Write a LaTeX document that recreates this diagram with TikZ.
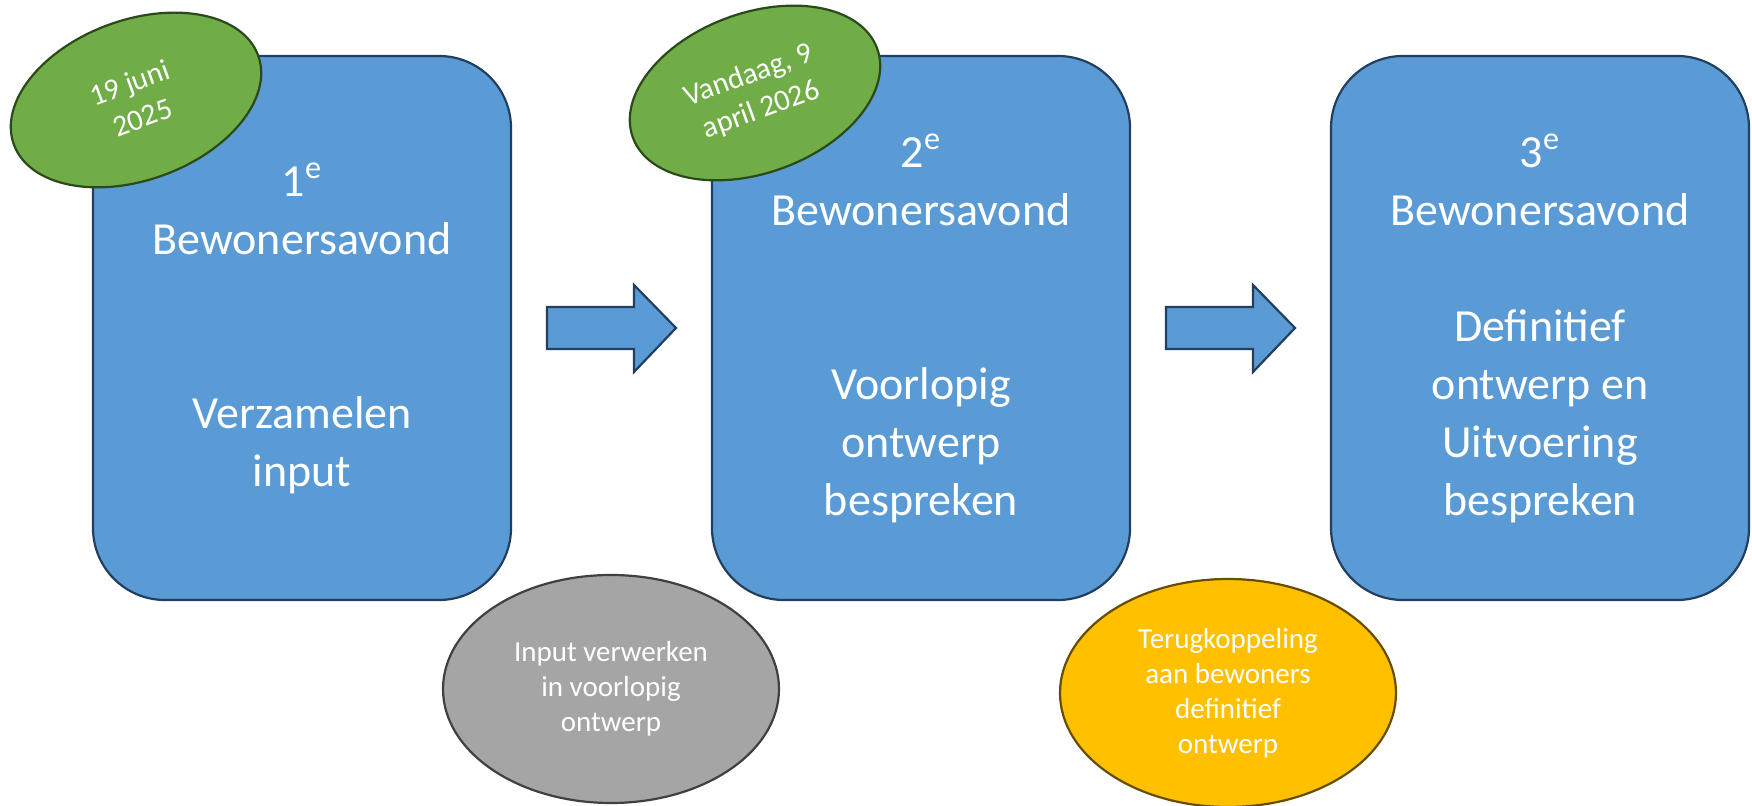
\documentclass[tikz,border=0pt]{standalone}
\usepackage{fontspec}
\setmainfont{Carlito}
\usetikzlibrary{shapes.geometric}
\definecolor{avondblauw}{HTML}{5B9BD5}
\definecolor{avondrand}{HTML}{213F60}
\definecolor{datumgroen}{HTML}{70AD47}
\definecolor{datumrand}{HTML}{2B4A1B}
\definecolor{stapgrijs}{HTML}{A5A5A5}
\definecolor{stapgeel}{HTML}{FFC000}
\tikzset{
  avond/.style = {draw = avondrand, fill = avondblauw, line width = 1.1pt,
    rounded corners = 36pt, minimum width = 209pt, minimum height = 272pt,
    align = center, text = white, font = \fontsize{23}{29}\selectfont,
    execute at begin node = \rule{0pt}{27pt}},
  datum/.style = {ellipse, draw = datumrand, fill = datumgroen, line width = 1.1pt,
    rotate = 20, minimum width = 130pt, minimum height = 80pt, inner sep = 0pt,
    align = center, text = white, font = \fontsize{15}{18.5}\selectfont},
  stap/.style = {ellipse, line width = 1.1pt, minimum width = 168pt,
    minimum height = 114pt, inner sep = 0pt,
    align = center, text = white, font = \fontsize{14.5}{17.5}\selectfont},
  pijl/.style = {draw = avondrand, fill = avondblauw, line width = 1.1pt}
}
\begin{document}
\begin{tikzpicture}[x = 0.5pt, y = -0.5pt]
\useasboundingbox (0,0) rectangle (1752,806);
% de drie bewonersavonden
\node (A1) [avond] at (302,328) {1\textsuperscript{e}\\Bewonersavond\\\mbox{}\\\mbox{}\\Verzamelen\\input};
\node (A2) [avond] at (921,328) {2\textsuperscript{e}\\Bewonersavond\\\mbox{}\\\mbox{}\\Voorlopig\\ontwerp\\bespreken};
\node (A3) [avond] at (1540,328) {3\textsuperscript{e}\\Bewonersavond\\\mbox{}\\Definitief\\ontwerp en\\Uitvoering\\bespreken};
% blokpijlen
\foreach \dx in {0,619}
  \draw [pijl, shift = {(\dx,0)}] (547,307) -- (634,307) -- (634,285) -- (676,328)
    -- (634,372) -- (634,349) -- (547,349) -- cycle;
% data
\node (D1) [datum] at (136,100) {19 juni\\2025};
\node (D2) [datum] at (755,93) {Vandaag, 9\\april 2026};
% tussenstappen
\node (S1) [stap, draw = black!75, fill = stapgrijs] at (611,689) {Input verwerken\\in voorlopig\\ontwerp};
\node (S2) [stap, draw = black!60!stapgeel, fill = stapgeel] at (1228,693) {Terugkoppeling\\aan bewoners\\definitief\\ontwerp};
\end{tikzpicture}
\end{document}
